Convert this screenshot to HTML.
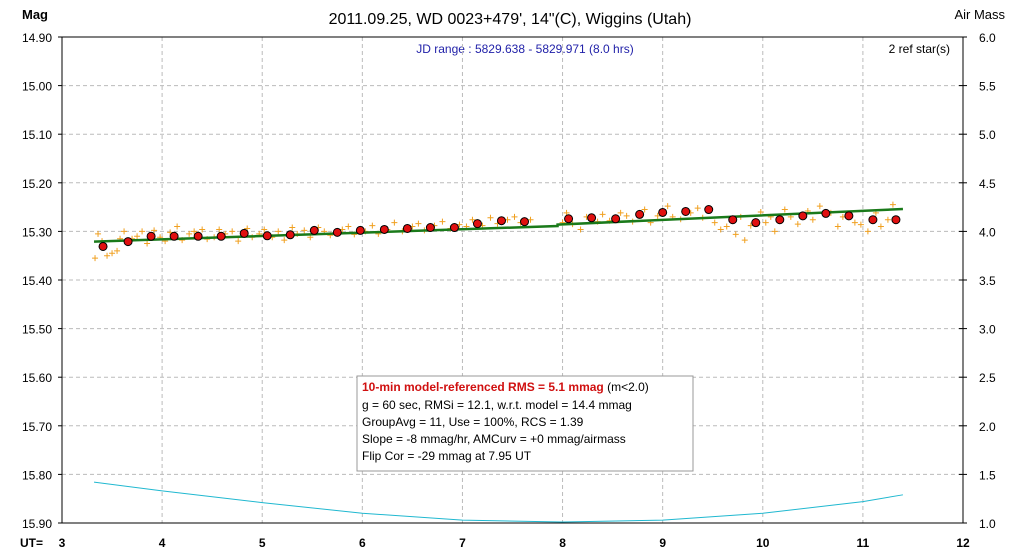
<!DOCTYPE html>
<html><head><meta charset="utf-8"><style>
body{margin:0;background:#fff;}
svg{display:block;font-family:"Liberation Sans",Arial,sans-serif;}
</style></head><body>
<svg id="chart" width="1014" height="558" xmlns="http://www.w3.org/2000/svg">
<rect width="1014" height="558" fill="#fff"/>
<text x="510" y="24" font-size="16" text-anchor="middle" fill="#000">2011.09.25, WD 0023+479', 14"(C), Wiggins (Utah)</text>
<text x="22" y="19" font-size="13" font-weight="bold" fill="#000">Mag</text>
<text x="1005" y="19" font-size="13" text-anchor="end" fill="#000">Air Mass</text>
<text x="525" y="53" font-size="12" text-anchor="middle" fill="#1f1fa8">JD range : 5829.638 - 5829.971 (8.0 hrs)</text>
<text x="950" y="53" font-size="12" text-anchor="end" fill="#000">2 ref star(s)</text>
<g id="grid"></g><g id="axes"></g><g id="marks"></g>
<g>
<rect x="357" y="376" width="336" height="95" fill="#fff" stroke="#999"/>
<text x="362" y="391" font-size="12" fill="#000"><tspan fill="#d01010" font-weight="bold">10-min model-referenced RMS = 5.1 mmag</tspan> (m&lt;2.0)</text>
<text x="362" y="409" font-size="12">g = 60 sec, RMSi = 12.1, w.r.t. model = 14.4 mmag</text>
<text x="362" y="426" font-size="12">GroupAvg = 11, Use = 100%, RCS = 1.39</text>
<text x="362" y="443" font-size="12">Slope = -8 mmag/hr, AMCurv = +0 mmag/airmass</text>
<text x="362" y="460" font-size="12">Flip Cor = -29 mmag at 7.95 UT</text>
</g>
</svg>
<script>
const xTicks=[3,4,5,6,7,8,9,10,11,12];
const magTicks=["14.90","15.00","15.10","15.20","15.30","15.40","15.50","15.60","15.70","15.80","15.90"];
const amTicks=["6.0","5.5","5.0","4.5","4.0","3.5","3.0","2.5","2.0","1.5","1.0"];
const groupUT=[3.41,3.66,3.89,4.12,4.36,4.59,4.82,5.05,5.28,5.52,5.75,5.98,6.22,6.45,6.68,6.92,7.15,7.39,7.62,8.06,8.29,8.53,8.77,9.00,9.23,9.46,9.70,9.93,10.17,10.40,10.63,10.86,11.10,11.33];
const groupMag=[15.331,15.321,15.310,15.310,15.310,15.310,15.304,15.309,15.307,15.298,15.302,15.298,15.296,15.294,15.292,15.292,15.284,15.278,15.280,15.274,15.272,15.274,15.265,15.261,15.259,15.255,15.276,15.282,15.276,15.268,15.263,15.268,15.276,15.276];
const rawUT=[3.33,3.36,3.40,3.45,3.50,3.55,3.58,3.62,3.70,3.75,3.80,3.85,3.92,3.98,4.03,4.08,4.15,4.20,4.27,4.32,4.40,4.45,4.52,4.57,4.63,4.70,4.76,4.85,4.90,4.97,5.02,5.10,5.16,5.22,5.30,5.35,5.42,5.48,5.56,5.62,5.68,5.80,5.86,5.92,6.03,6.10,6.16,6.25,6.32,6.40,6.50,6.56,6.62,6.72,6.80,6.88,6.97,7.04,7.10,7.20,7.28,7.35,7.45,7.52,7.58,7.68,8.00,8.04,8.10,8.18,8.24,8.35,8.40,8.47,8.58,8.64,8.70,8.82,8.88,8.95,9.05,9.10,9.18,9.28,9.35,9.40,9.52,9.58,9.64,9.73,9.78,9.82,9.88,9.98,10.03,10.08,10.12,10.22,10.28,10.35,10.45,10.50,10.57,10.68,10.75,10.80,10.92,10.98,11.05,11.13,11.18,11.25,11.30];
const rawMag=[15.355,15.305,15.320,15.350,15.345,15.340,15.315,15.300,15.315,15.310,15.300,15.325,15.298,15.312,15.320,15.302,15.290,15.318,15.305,15.300,15.296,15.316,15.312,15.296,15.305,15.300,15.320,15.294,15.312,15.305,15.296,15.312,15.300,15.318,15.292,15.305,15.298,15.312,15.292,15.300,15.308,15.296,15.290,15.306,15.300,15.288,15.305,15.296,15.282,15.300,15.290,15.284,15.298,15.288,15.280,15.294,15.286,15.290,15.276,15.288,15.272,15.284,15.276,15.270,15.282,15.276,15.282,15.262,15.285,15.296,15.270,15.280,15.265,15.278,15.262,15.268,15.280,15.255,15.282,15.268,15.248,15.270,15.275,15.262,15.252,15.272,15.282,15.296,15.290,15.306,15.270,15.318,15.288,15.260,15.282,15.270,15.300,15.255,15.270,15.285,15.258,15.276,15.248,15.262,15.290,15.270,15.282,15.286,15.300,15.262,15.290,15.276,15.245];
const trendUT=[3.32,7.95,7.95,11.40];
const trendMag=[15.321,15.289,15.286,15.254];
const amUT=[3.32,4,5,6,7,8,9,10,11,11.4];
const airMass=[1.42,1.33,1.21,1.10,1.03,1.01,1.03,1.10,1.22,1.29];
const L=62,R=963,T=37,B=523;
const X=u=>L+(u-3)*(R-L)/9;
const Y=m=>T+(m-14.9)*(B-T)/1.0;
const YA=a=>B-(a-1)*(B-T)/5;
const NS="http://www.w3.org/2000/svg";
function mk(tag,attrs,parent){const e=document.createElementNS(NS,tag);for(const k in attrs)e.setAttribute(k,attrs[k]);parent.appendChild(e);return e;}
const grid=document.getElementById('grid'),axes=document.getElementById('axes'),marks=document.getElementById('marks');
xTicks.forEach((t,i)=>{
 if(i>0&&i<xTicks.length-1){const g=mk('line',{x1:X(t),x2:X(t),y1:T,y2:B,stroke:'#bbb','stroke-dasharray':'4,3'},grid);
 
 }
 const tx=mk('text',{x:X(t),y:B+24,'font-size':12,'font-weight':'bold','text-anchor':'middle'},axes);tx.textContent=t;
 
 
});
magTicks.forEach((t,i)=>{
 const y=Y(parseFloat(t));
 if(i>0&&i<magTicks.length-1){const g=mk('line',{x1:L,x2:R,y1:y,y2:y,stroke:'#bbb','stroke-dasharray':'4,3'},grid);
 
 }
 mk('line',{x1:L-4,x2:L,y1:y,y2:y,stroke:'#000'},axes);
 const tx=mk('text',{x:L-10,y:y+5,'font-size':12,'text-anchor':'end'},axes);tx.textContent=t;
 
 
});
amTicks.forEach(t=>{
 const y=YA(parseFloat(t));
 mk('line',{x1:R-4,x2:R+4,y1:y,y2:y,stroke:'#000'},axes);
 const tx=mk('text',{x:R+16,y:y+5,'font-size':12,'text-anchor':'start'},axes);tx.textContent=t;
 
 
});
const ut=mk('text',{x:20,y:B+24,'font-size':12,'font-weight':'bold'},axes);ut.textContent='UT=';


const fr=mk('rect',{x:L,y:T,width:R-L,height:B-T,fill:'none',stroke:'#000','stroke-width':1},axes);


const am=mk('polyline',{points:amUT.map((u,i)=>X(u)+','+YA(airMass[i])).join(' '),fill:'none',stroke:'#20b8d0','stroke-width':1},marks);


rawUT.forEach((u,i)=>{
 const x=X(u),y=Y(rawMag[i]);
 const p=mk('path',{d:`M${x-3},${y}H${x+3}M${x},${y-3}V${y+3}`,stroke:'#f0a020','stroke-width':1},marks);
 
 
});
const tr=mk('polyline',{points:trendUT.map((u,i)=>X(u)+','+Y(trendMag[i])).join(' '),fill:'none',stroke:'#1a7a1a','stroke-width':2.5},marks);


groupUT.forEach((u,i)=>{
 const c=mk('circle',{cx:X(u),cy:Y(groupMag[i]),r:4,fill:'#e01010',stroke:'#000','stroke-width':1},marks);
 
 
});
</script>
</body></html>
